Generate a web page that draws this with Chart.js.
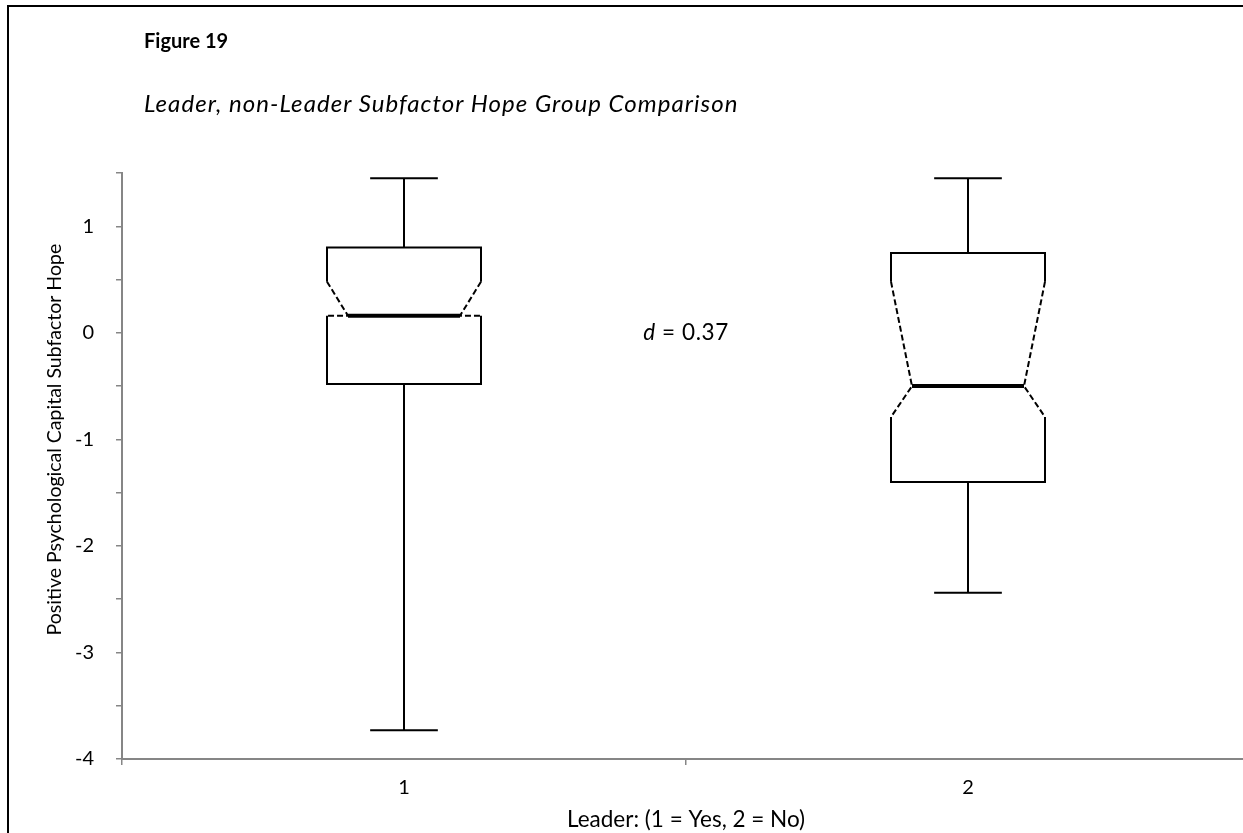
<!DOCTYPE html>
<html>
<head>
<meta charset="utf-8">
<script src="https://cdn.jsdelivr.net/npm/chart.js@4/dist/chart.umd.min.js"></script>
<style>
  html, body { margin: 0; padding: 0; background: #fff; overflow: hidden; }
  #wrap { position: relative; width: 1243px; height: 833px; overflow: hidden; }
  #c { position: absolute; left: 0; top: 0; }
  #frame { position: absolute; left: 7px; top: 5px; width: 2000px; height: 2000px;
           border-top: 2px solid #000; border-left: 2px solid #000; pointer-events: none; }
  .t { position: absolute; left: 144px; font-family: Lato, "Open Sans", sans-serif; color: #000; white-space: nowrap; line-height: 1; }
  #fig { top: 30px; font-size: 20px; font-weight: bold; }
  #sub { top: 91px; font-size: 24px; font-style: italic; letter-spacing: 1.05px; }
</style>
</head>
<body>
<div id="wrap">
  <canvas id="c" width="1250" height="833" style="width:1250px;height:833px"></canvas>
  <div id="frame"></div>
  <div class="t" id="fig">Figure 19</div>
  <div class="t" id="sub">Leader, non-Leader Subfactor Hope Group Comparison</div>
</div>
<script>
// ---- data ----
const categories = ['1', '2'];
const whiskerHigh = [1.45, 1.45];
const q3 = [0.80, 0.75];
const notchHigh = [0.48, 0.48];
const median = [0.16, -0.50];
const notchLow = [0.16, -0.79];
const q1 = [-0.48, -1.40];
const whiskerLow = [-3.73, -2.44];
const yTickValues = [-4, -3, -2, -1, 0, 1];
const effectLabel = { name: 'd', value: '0.37' };
const yAxisTitle = 'Positive Psychological Capital Subfactor Hope';
const xAxisTitle = 'Leader: (1 = Yes, 2 = No)';

const FONT = 'Lato, "Open Sans", sans-serif';

const boxPlugin = {
  id: 'boxes',
  afterDatasetsDraw(chart) {
    const ctx = chart.ctx;
    const xs = chart.scales.x, ys = chart.scales.y;
    const catW = xs.getPixelForValue(1) - xs.getPixelForValue(0);
    const halfBox = catW * 0.1365;
    const halfNotch = catW * 0.0995;
    const halfCap = catW * 0.06;
    ctx.save();
    ctx.strokeStyle = '#000';
    ctx.lineCap = 'butt';
    for (let i = 0; i < categories.length; i++) {
      const cx = Math.round(xs.getPixelForValue(i));
      const L = Math.round(cx - halfBox), R = Math.round(cx + halfBox);
      const nL = Math.round(cx - halfNotch), nR = Math.round(cx + halfNotch);
      const yWH = ys.getPixelForValue(whiskerHigh[i]);
      const yQ3 = ys.getPixelForValue(q3[i]);
      const yNH = ys.getPixelForValue(notchHigh[i]);
      const yMed = ys.getPixelForValue(median[i]);
      const yNL = ys.getPixelForValue(notchLow[i]);
      const yQ1 = ys.getPixelForValue(q1[i]);
      const yWL = ys.getPixelForValue(whiskerLow[i]);
      ctx.lineWidth = 2;
      ctx.setLineDash([]);
      // whiskers
      ctx.beginPath();
      ctx.moveTo(cx, yWH); ctx.lineTo(cx, yQ3);
      ctx.moveTo(cx - halfCap, yWH); ctx.lineTo(cx + halfCap, yWH);
      ctx.moveTo(cx, yQ1); ctx.lineTo(cx, yWL);
      ctx.moveTo(cx - halfCap, yWL); ctx.lineTo(cx + halfCap, yWL);
      ctx.stroke();
      // solid parts of box
      ctx.beginPath();
      ctx.moveTo(L, yNH); ctx.lineTo(L, yQ3); ctx.lineTo(R, yQ3); ctx.lineTo(R, yNH);
      ctx.moveTo(L, yNL); ctx.lineTo(L, yQ1); ctx.lineTo(R, yQ1); ctx.lineTo(R, yNL);
      ctx.stroke();
      // dashed notch
      ctx.setLineDash([6, 3]);
      ctx.beginPath();
      ctx.moveTo(L, yNH); ctx.lineTo(nL, yMed); ctx.lineTo(L, yNL);
      ctx.moveTo(R, yNH); ctx.lineTo(nR, yMed); ctx.lineTo(R, yNL);
      ctx.stroke();
      // median
      ctx.setLineDash([]);
      ctx.lineWidth = 4;
      ctx.beginPath();
      ctx.moveTo(nL, yMed); ctx.lineTo(nR, yMed);
      ctx.stroke();
    }
    // effect size annotation between the groups at y = 0
    const ax = (xs.getPixelForValue(0) + xs.getPixelForValue(1)) / 2;
    const ay = ys.getPixelForValue(0);
    ctx.fillStyle = '#000';
    ctx.textBaseline = 'middle';
    ctx.textAlign = 'left';
    if ('letterSpacing' in ctx) ctx.letterSpacing = '0.6px';
    const f1 = 'italic 22.5px ' + FONT, f2 = '22.5px ' + FONT;
    const rest = ' = ' + effectLabel.value;
    ctx.font = f1; const w1 = ctx.measureText(effectLabel.name).width;
    ctx.font = f2; const w2 = ctx.measureText(rest).width;
    let sx = ax - (w1 + w2) / 2;
    ctx.font = f1; ctx.fillText(effectLabel.name, sx, ay);
    ctx.font = f2; ctx.fillText(rest, sx + w1, ay);
    if ('letterSpacing' in ctx) ctx.letterSpacing = '0px';
    // y axis title (centred slightly above the plot middle, as in the reference)
    ctx.save();
    ctx.translate(55, ys.top + (ys.bottom - ys.top) * 0.455);
    ctx.rotate(-Math.PI / 2);
    ctx.textAlign = 'center';
    ctx.textBaseline = 'middle';
    ctx.font = '19.5px ' + FONT;
    ctx.fillText(yAxisTitle, 0, 0);
    ctx.restore();
    ctx.restore();
  }
};

new Chart(document.getElementById('c'), {
  type: 'line',
  data: {
    labels: categories,
    datasets: [{ data: median, showLine: false, pointRadius: 0, borderColor: 'rgba(0,0,0,0)' }]
  },
  options: {
    responsive: false,
    animation: false,
    events: [],
    layout: { padding: { top: 173, left: 0, right: 0, bottom: 0 } },
    plugins: { legend: { display: false }, tooltip: { enabled: false } },
    scales: {
      x: {
        type: 'category',
        offset: true,
        grid: { offset: true, drawOnChartArea: false, tickLength: 6, color: '#868686', lineWidth: 1.5 },
        border: { color: '#868686', width: 2 },
        ticks: { color: '#000', font: { family: FONT, size: 20 }, padding: 11, maxRotation: 0 },
        title: { display: true, text: xAxisTitle, color: '#000',
                 font: { family: FONT, size: 22.5 }, padding: { top: 0, bottom: 0 } },
        afterFit(s) { s.height = 833 - 759; }
      },
      y: {
        min: -4, max: 1.5,
        grid: { drawOnChartArea: false, tickLength: 6, color: '#868686', lineWidth: 1.5 },
        border: { color: '#868686', width: 2 },
        ticks: {
          stepSize: 0.5, color: '#000', font: { family: FONT, size: 20 }, padding: 22,
          callback: (v) => yTickValues.includes(v) ? String(v) : ''
        },
        title: { display: false },
        afterFit(s) { s.width = 122; }
      }
    }
  },
  plugins: [boxPlugin]
});
</script>
</body>
</html>
